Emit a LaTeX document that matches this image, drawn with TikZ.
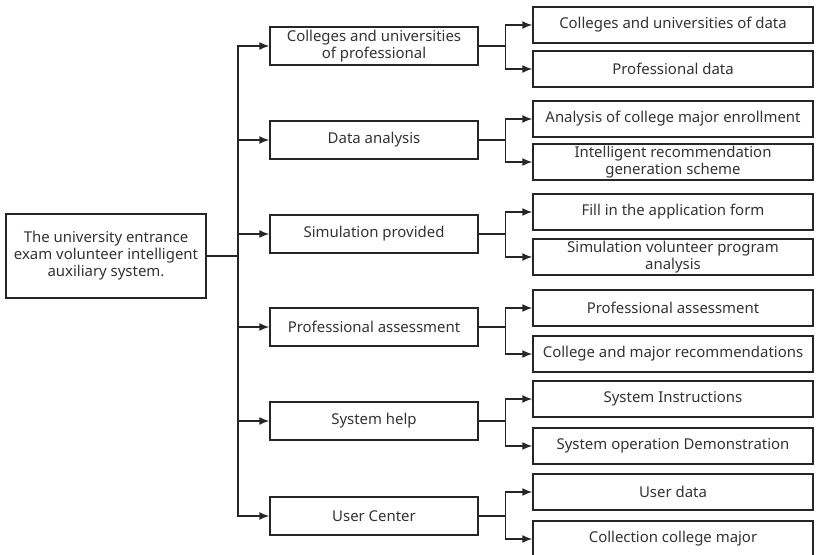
\documentclass[tikz,border=0pt]{standalone}
\usepackage{fontspec}
\setmainfont{Noto Sans}
\usetikzlibrary{arrows.meta}
\begin{document}
\begin{tikzpicture}[x=0.75pt,y=-0.75pt,
  box/.style={draw=black!85,line width=1.1pt,inner sep=0pt,align=center,font=\fontsize{11.2pt}{12.8pt}\selectfont,text=black!80},
  mid/.style={box,minimum width=156pt,minimum height=28.5pt},
  leaf/.style={box,minimum width=210pt,minimum height=27pt},
  conn/.style={line width=1.1pt,draw=black!85},
  arr/.style={conn,-{Latex[length=7.5pt,width=6pt]}}]
\useasboundingbox (0,0) rectangle (817,555);
\node[box,minimum width=150pt,minimum height=63pt] (root) at (106,256) {The university entrance\\exam volunteer intelligent\\auxiliary system.};
\coordinate (trunk) at (238,256);
\node[mid] (m1) at (374,46) {Colleges and universities\\of professional};
\node[mid] (m2) at (374,140) {Data analysis};
\node[mid] (m3) at (374,234) {Simulation provided};
\node[mid] (m4) at (374,327) {Professional assessment};
\node[mid] (m5) at (374,421) {System help};
\node[mid] (m6) at (374,516) {User Center};
\node[leaf] (l1a) at (673,25) {Colleges and universities of data};
\node[leaf] (l1b) at (673,69) {Professional data};
\node[leaf] (l2a) at (673,119) {Analysis of college major enrollment};
\node[leaf] (l2b) at (673,162) {Intelligent recommendation\\generation scheme};
\node[leaf] (l3a) at (673,212) {Fill in the application form};
\node[leaf] (l3b) at (673,257) {Simulation volunteer program\\analysis};
\node[leaf] (l4a) at (673,308) {Professional assessment};
\node[leaf] (l4b) at (673,354) {College and major recommendations};
\node[leaf] (l5a) at (673,399) {System Instructions};
\node[leaf] (l5b) at (673,446) {System operation Demonstration};
\node[leaf] (l6a) at (673,492) {User data};
\node[leaf] (l6b) at (673,539) {Collection college major};
\draw[conn] (root.east) -- (trunk);
\foreach \m in {m1,m2,m3,m4,m5,m6}{
  \draw[arr] (trunk) |- (\m.west);
}
\foreach \m/\a/\b in {m1/l1a/l1b,m2/l2a/l2b,m3/l3a/l3b,m4/l4a/l4b,m5/l5a/l5b,m6/l6a/l6b}{
  \draw[conn] (\m.east) -- ++(27,0) coordinate (j\m);
  \draw[arr] (j\m) |- (\a.west);
  \draw[arr] (j\m) |- (\b.west);
}
\end{tikzpicture}
\end{document}
